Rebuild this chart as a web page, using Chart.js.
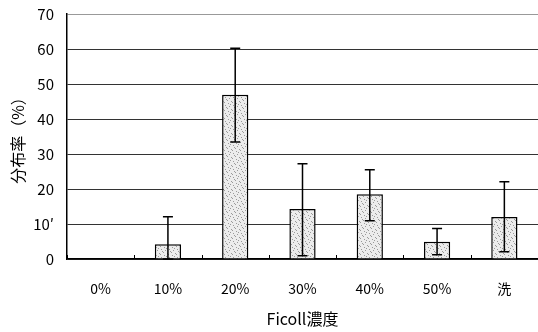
<!DOCTYPE html>
<html>
<head>
<meta charset="utf-8">
<script src="https://cdn.jsdelivr.net/npm/chart.js@4"></script>
<style>
  html, body { margin: 0; padding: 0; background: #fff; }
  #wrap { width: 538px; height: 332px; }
</style>
</head>
<body>
<div id="wrap"><canvas id="chart"></canvas></div>
<script>
// data
const categories = ['0%', '10%', '20%', '30%', '40%', '50%', '洗'];
const means = [0, 4.2, 46.9, 14.3, 18.5, 4.9, 12.0];
const errHigh = [0, 12.1, 60.2, 27.2, 25.5, 8.7, 22.1];
const errLow = [0, 0, 33.4, 0.9, 10.9, 1.2, 2.1];
const yTicks = [0, 10, 20, 30, 40, 50, 60, 70];
const yTickLabels = ['0', '10′', '20', '30', '40', '50', '60', '70'];

const FONT = '"Noto Sans CJK JP", "Noto Sans", sans-serif';

// stippled fill like the scanned bars
function stipple() {
  const c = document.createElement('canvas');
  c.width = 8; c.height = 8;
  const g = c.getContext('2d');
  g.fillStyle = '#ececec';
  g.fillRect(0, 0, 8, 8);
  g.fillStyle = '#9a9a9a';
  [[1,1],[5,2],[3,4],[7,5],[0,6],[4,7],[6,0],[2,3]].forEach(p => g.fillRect(p[0], p[1], 1, 1));
  return g.createPattern(c, 'repeat');
}

const errorBars = {
  id: 'errorBars',
  afterDatasetsDraw(chart) {
    const { ctx, scales: { x, y }, chartArea } = chart;
    ctx.save();
    ctx.strokeStyle = '#000';
    // small tick marks between categories on the baseline
    ctx.lineWidth = 1;
    for (let i = 0; i <= categories.length; i++) {
      const px = Math.round(x.getPixelForValue(i - 0.5)) + 0.5;
      ctx.beginPath();
      ctx.moveTo(px, chartArea.bottom);
      ctx.lineTo(px, chartArea.bottom - 4);
      ctx.stroke();
    }
    ctx.lineWidth = 1.5;
    categories.forEach((c, i) => {
      if (errHigh[i] === errLow[i]) return;
      const px = x.getPixelForValue(i);
      const yh = y.getPixelForValue(errHigh[i]);
      const yl = y.getPixelForValue(errLow[i]);
      ctx.beginPath();
      ctx.moveTo(px, yh); ctx.lineTo(px, yl);
      ctx.moveTo(px - 5, yh); ctx.lineTo(px + 5, yh);
      ctx.moveTo(px - 5, yl); ctx.lineTo(px + 5, yl);
      ctx.stroke();
    });
    ctx.restore();
  }
};

new Chart(document.getElementById('chart').getContext('2d'), {
  type: 'bar',
  data: {
    labels: categories,
    datasets: [{
      data: means,
      backgroundColor: stipple(),
      borderColor: '#000',
      borderWidth: 1.5,
      borderSkipped: 'bottom',
      barPercentage: 0.39,
      categoryPercentage: 1.0
    }]
  },
  options: {
    responsive: true,
    maintainAspectRatio: false,
    animation: false,
    layout: { padding: { top: 14, right: 0, left: 8, bottom: 3 } },
    plugins: { legend: { display: false }, tooltip: { enabled: false } },
    scales: {
      x: {
        afterFit: axis => { axis.height = 70; },
        grid: { display: false },
        border: { color: '#000', width: 1.5 },
        ticks: { color: '#000', font: { family: FONT, size: 14 }, padding: 13 },
        title: { display: true, text: 'Ficoll濃度', color: '#000', font: { family: FONT, size: 16 }, padding: { top: 0, bottom: 0 } }
      },
      y: {
        min: 0,
        max: 70,
        afterFit: axis => { axis.width = 59; axis.paddingTop = 0; axis.paddingBottom = 0; },
        afterBuildTicks: axis => { axis.ticks = yTicks.map(v => ({ value: v })); },
        grid: {
          color: ctx => ctx.tick && ctx.tick.value === 70 ? '#999' : '#333',
          lineWidth: 1,
          drawTicks: false
        },
        border: { color: '#000', width: 1.5 },
        ticks: {
          color: '#000',
          font: { family: FONT, size: 15 },
          padding: 13,
          callback: (v) => yTickLabels[yTicks.indexOf(v)]
        },
        title: { display: true, text: '分布率（%）', color: '#000', font: { family: FONT, size: 16 }, padding: { top: 0, bottom: 0 } }
      }
    }
  },
  plugins: [errorBars]
});
</script>
</body>
</html>
